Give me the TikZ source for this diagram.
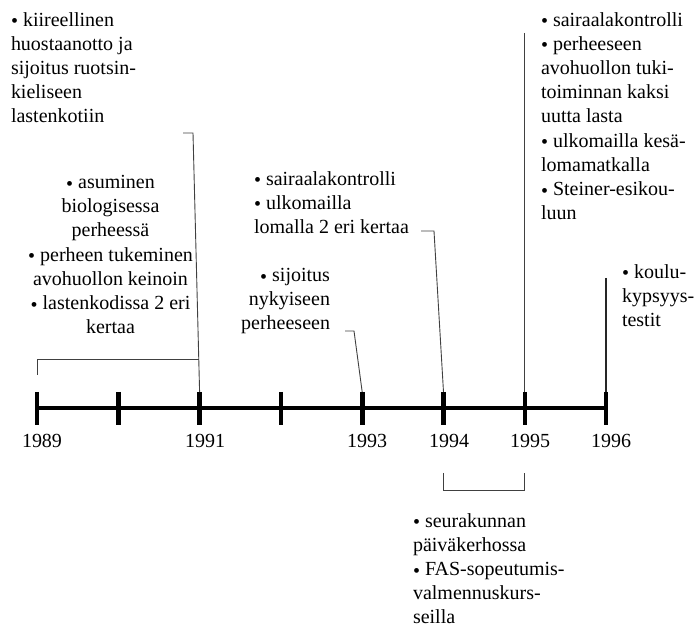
\documentclass[tikz,border=0pt]{standalone}
\usepackage{fontspec}
\setmainfont{Liberation Serif}
\newcommand\bul{\raisebox{-1.5pt}{\textbullet}\ }
\begin{document}
\begin{tikzpicture}[x=1pt,y=-1pt,
  every node/.style={inner sep=0pt,outer sep=0pt,font=\fontsize{20}{24.2}\selectfont},
  note/.style={align=left,anchor=north west},
  year/.style={anchor=base},
  axisline/.style={line width=4.2pt},
  tickmark/.style={line width=4.6pt},
  link/.style={line width=0.9pt,draw=black!75},
  bracket/.style={line width=0.9pt,draw=black!75}]
\useasboundingbox (0,0) rectangle (697,628);

% time axis and ticks
\coordinate (a0) at (37,408);
\coordinate (a7) at (606.1,408);
\draw[axisline] (a0) -- (a7);
\foreach \i/\x in {0/37,1/118.3,2/199.6,3/280.9,4/362.2,5/443.5,6/524.8,7/606.1}{
  \coordinate (t\i top) at (\x,392);
  \coordinate (t\i bot) at (\x,425);
  \draw[tickmark] (t\i top) -- (t\i bot);
}

% year labels
\node[year] (y1989) at (42,448) {1989};
\node[year] (y1991) at (205,448) {1991};
\node[year] (y1993) at (367,448) {1993};
\node[year] (y1994) at (449,448) {1994};
\node[year] (y1995) at (530,448) {1995};
\node[year] (y1996) at (611,448) {1996};

% event texts
\node[note] (nA) at (11,12.3) {\bul kiireellinen\\huostaanotto ja\\sijoitus ruotsin-\\kieliseen\\lastenkotiin};
\node[align=center,anchor=north] (nB) at (110.5,175.3) {\bul asuminen\\biologisessa\\perheessä\\\bul perheen tukeminen\\avohuollon keinoin\\\bul lastenkodissa 2 eri\\kertaa};
\node[note] (nC) at (254,171.3) {\bul sairaalakontrolli\\\bul ulkomailla\\lomalla 2 eri kertaa};
\node[align=right,anchor=north east] (nD) at (330,268.3) {\bul sijoitus\\nykyiseen\\perheeseen};
\node[note] (nE) at (541,12.3) {\bul sairaalakontrolli\\\bul perheeseen\\avohuollon tuki-\\toiminnan kaksi\\uutta lasta\\\bul ulkomailla kesä-\\lomamatkalla\\\bul Steiner-esikou-\\luun};
\node[note] (nF) at (622,264.3) {\bul koulu-\\kypsyys-\\testit};
\node[note] (nG) at (413,513.3) {\bul seurakunnan\\päiväkerhossa\\\bul FAS-sopeutumis-\\valmennuskurs-\\seilla};

% connectors from texts to ticks
\coordinate (cA1) at (183,133);
\coordinate (cA2) at (193,133);
\draw[link] (cA1) -- (cA2) -- (t2top);
\coordinate (cC1) at (421,231);
\coordinate (cC2) at (434,231);
\draw[link] (cC1) -- (cC2) -- (t5top);
\coordinate (cD1) at (345,331);
\coordinate (cD2) at (354,331);
\draw[link] (cD1) -- (cD2) -- (t4top);
\coordinate (cE) at (524.8,33);
\draw[link] (cE) -- (t6top);
\coordinate (cF) at (606.1,278);
\draw[link,line width=1.3pt,draw=black!85] (cF) -- (t7top);

% brackets marking periods
\coordinate (bL1) at (37,375);
\coordinate (bL2) at (37,359);
\coordinate (bL3) at (198.8,359);
\draw[bracket] (bL1) -- (bL2) -- (bL3);
\coordinate (bB1) at (443.5,473);
\coordinate (bB2) at (443.5,490);
\coordinate (bB3) at (524.8,490);
\coordinate (bB4) at (524.8,473);
\draw[bracket] (bB1) -- (bB2) -- (bB3) -- (bB4);
\end{tikzpicture}
\end{document}
